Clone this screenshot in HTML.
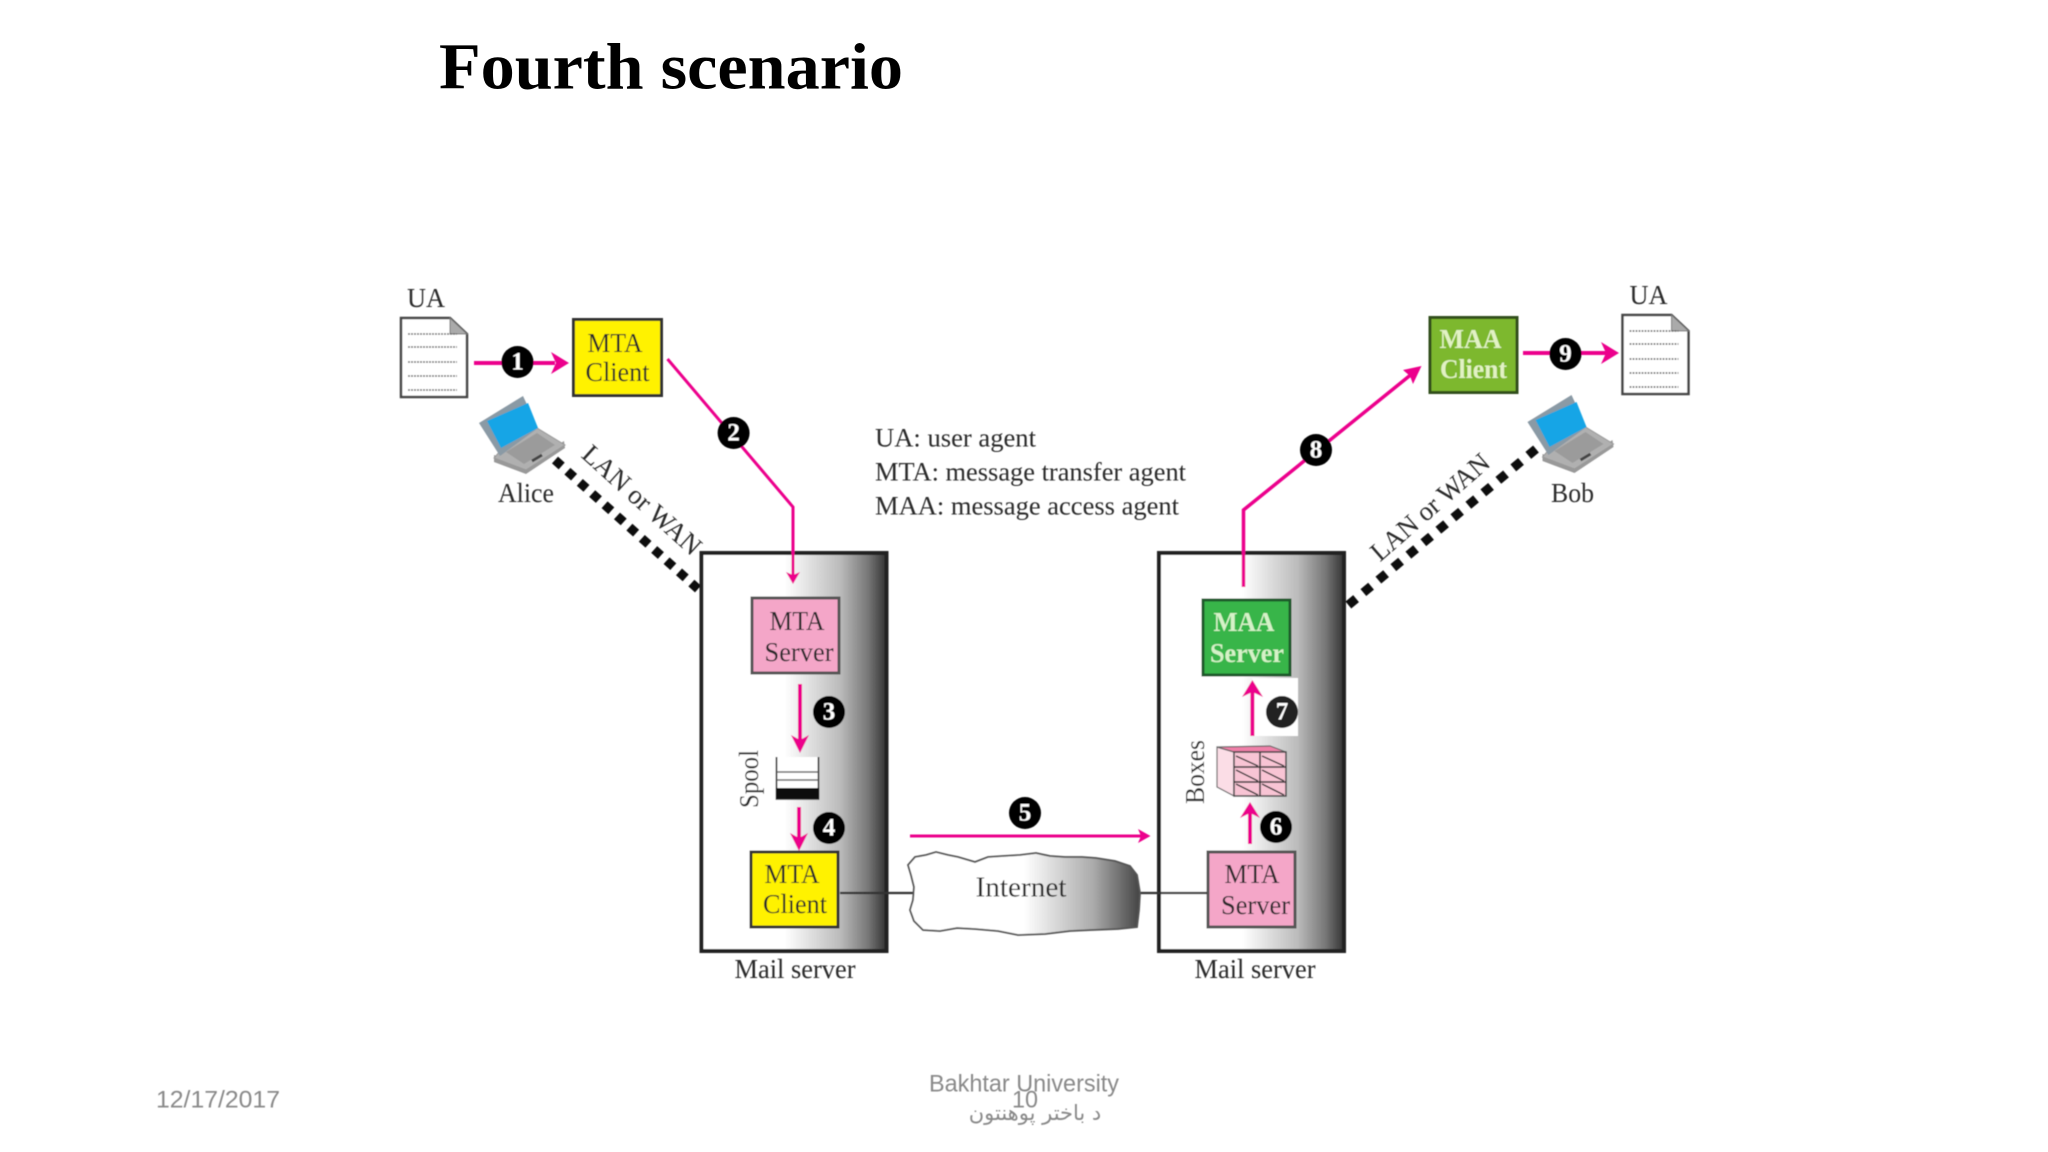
<!DOCTYPE html>
<html><head><meta charset="utf-8"><title>Fourth scenario</title>
<style>html,body{margin:0;padding:0;background:#fff}svg{display:block}
text{font-family:"Liberation Serif",serif;fill:#2a2a2a;text-anchor:middle;dominant-baseline:central}
.b{font-weight:bold}
.n{font-weight:bold;fill:#fff;font-size:25px}
.f{font-family:"Liberation Sans","DejaVu Sans",sans-serif;fill:#898989}
</style></head><body>
<svg xmlns="http://www.w3.org/2000/svg" width="2048" height="1152" viewBox="0 0 2048 1152">
<defs>
<linearGradient id="g" x1="0" x2="1" y1="0" y2="0"><stop offset="0" stop-color="#fff"/><stop offset=".45" stop-color="#fff"/><stop offset=".75" stop-color="#bbb"/><stop offset=".9" stop-color="#777"/><stop offset="1" stop-color="#333"/></linearGradient>
<linearGradient id="c" x1="0" x2="1" y1="0" y2="0"><stop offset="0" stop-color="#fff"/><stop offset=".5" stop-color="#fff"/><stop offset=".8" stop-color="#aaa"/><stop offset="1" stop-color="#444"/></linearGradient>
<filter id="s" x="-2%" y="-2%" width="104%" height="104%"><feGaussianBlur stdDeviation=".55"/></filter>
<g id="doc">
<path d="M401 318H450L467 334V397H401Z" fill="#fff" stroke="#444" stroke-width="2.5"/>
<path d="M450 318V334H467Z" fill="#aaa" stroke="#777" stroke-width="1"/>
<path d="M408 334H457M408 347H457M408 362H457M408 376H457M408 390H457" stroke="#666" stroke-width="1.6" stroke-dasharray="2 1" fill="none"/>
</g>
<g id="lap">
<path d="M494 462L526 474L565 448L564 441L526 466L494 455Z" fill="#999"/>
<path d="M500 451L537 428L565 445L526 470L494 458Z" fill="#b0b0b0" stroke="#999" stroke-width="1"/>
<path d="M506 452L537 433L555 445L524 464Z" fill="#9b9b9b"/>
<path d="M479 423L523 396L538 428L500 456Z" fill="#8a9aa5"/>
<path d="M487 421L528 403L538 428L501 448Z" fill="#12a5e6"/>
<path d="M532 461L542 455" stroke="#444" stroke-width="3"/>
</g>
</defs>
<rect width="2048" height="1152" fill="#fff"/>
<text class="b" x="671" y="67" font-size="66" textLength="464" lengthAdjust="spacingAndGlyphs" style="fill:#000">Fourth scenario</text>
<g filter="url(#s)">
<use href="#doc"/>
<use href="#doc" transform="translate(1221.5 -3)"/>
<use href="#lap"/>
<use href="#lap" transform="translate(1048.5 -1)"/>

<text x="426" y="298" font-size="27" textLength="38" lengthAdjust="spacingAndGlyphs">UA</text>
<text x="1648.500" y="295" font-size="27" textLength="38" lengthAdjust="spacingAndGlyphs">UA</text>
<text x="526" y="493" font-size="27" textLength="56" lengthAdjust="spacingAndGlyphs">Alice</text>
<text x="1572.500" y="493" font-size="27" textLength="43" lengthAdjust="spacingAndGlyphs">Bob</text>

<path d="M555 460L698 589" stroke="#111" stroke-width="9" stroke-dasharray="9 7.7" fill="none"/>
<path d="M1536 449L1346 607" stroke="#111" stroke-width="9" stroke-dasharray="10 9.5" fill="none"/>
<text x="642" y="500" font-size="27" textLength="150" lengthAdjust="spacingAndGlyphs" transform="rotate(42 642 500)">LAN or WAN</text>
<text x="1430" y="507" font-size="27" textLength="148" lengthAdjust="spacingAndGlyphs" transform="rotate(-41 1430 507)">LAN or WAN</text>

<text x="955.500" y="438" font-size="26" textLength="161" lengthAdjust="spacingAndGlyphs">UA: user agent</text>
<text x="1030.500" y="472" font-size="26" textLength="311" lengthAdjust="spacingAndGlyphs">MTA: message transfer agent</text>
<text x="1027" y="506" font-size="26" textLength="304" lengthAdjust="spacingAndGlyphs">MAA: message access agent</text>

<!-- servers -->
<rect x="701.500" y="553" width="185" height="398" fill="url(#g)" stroke="#222" stroke-width="4"/>
<rect x="1159" y="553" width="185" height="398" fill="url(#g)" stroke="#222" stroke-width="4"/>
<text x="795" y="969" font-size="27" textLength="121" lengthAdjust="spacingAndGlyphs">Mail server</text>
<text x="1255" y="969" font-size="27" textLength="121" lengthAdjust="spacingAndGlyphs">Mail server</text>

<!-- boxes -->
<g stroke="#333" stroke-width="3">
<rect x="573.500" y="319.500" width="88" height="76" fill="#fff200"/>
<rect x="752" y="598" width="87" height="75" fill="#f4a6c8" stroke="#555"/>
<rect x="751" y="852" width="87" height="75" fill="#fff200"/>
<rect x="1208" y="852" width="87" height="75" fill="#f4a6c8" stroke="#555"/>
<rect x="1203" y="600" width="87" height="75" fill="#39b54a" stroke="#1e5a2c"/>
<rect x="1430" y="317.500" width="87" height="75" fill="#7db82f" stroke="#33501a"/>
</g>
<text x="615" y="343" font-size="27" textLength="55" lengthAdjust="spacingAndGlyphs">MTA</text>
<text x="617.500" y="372" font-size="27" textLength="64" lengthAdjust="spacingAndGlyphs">Client</text>
<text x="797" y="621" font-size="27" textLength="55" lengthAdjust="spacingAndGlyphs">MTA</text>
<text x="799" y="652" font-size="27" textLength="69" lengthAdjust="spacingAndGlyphs">Server</text>
<text x="792" y="874" font-size="27" textLength="55" lengthAdjust="spacingAndGlyphs">MTA</text>
<text x="795" y="904" font-size="27" textLength="64" lengthAdjust="spacingAndGlyphs">Client</text>
<text x="1252" y="874" font-size="27" textLength="55" lengthAdjust="spacingAndGlyphs">MTA</text>
<text x="1255.500" y="905" font-size="27" textLength="69" lengthAdjust="spacingAndGlyphs">Server</text>
<text class="b" x="1244" y="622" font-size="27" textLength="61" lengthAdjust="spacingAndGlyphs" style="fill:#d5f2c8">MAA</text>
<text class="b" x="1247" y="653" font-size="27" textLength="74" lengthAdjust="spacingAndGlyphs" style="fill:#d5f2c8">Server</text>
<text class="b" x="1470.500" y="339" font-size="27" textLength="62" lengthAdjust="spacingAndGlyphs" style="fill:#e2f2c4">MAA</text>
<text class="b" x="1473.500" y="369" font-size="27" textLength="67" lengthAdjust="spacingAndGlyphs" style="fill:#e2f2c4">Client</text>

<!-- connection lines + cloud -->
<path d="M840 893H916M1138 893H1207" stroke="#333" stroke-width="2.2" fill="none"/>
<path d="M908 865L915 857L926 855L936 852L948 855L958 857L975 862L988 857L1003 856L1020 855L1036 853L1050 856L1065 857L1082 857L1096 858L1115 861L1130 866L1137 875L1140 893L1139 910L1137 927L1118 929L1092 930L1070 931L1045 934L1018 935L998 931L975 929L957 928L940 931L923 930L914 921L910 910L913 900L914 887L911 875Z" fill="url(#c)" stroke="#555" stroke-width="1.8"/>
<text x="1021" y="888" font-size="28" textLength="91" lengthAdjust="spacingAndGlyphs">Internet</text>

<!-- spool -->
<path d="M776.500 757V799H818.500V757" fill="#fff" stroke="#444" stroke-width="1.8"/>
<path d="M777 772H818M777 780H818" stroke="#666" stroke-width="1.5"/>
<rect x="776" y="788" width="43" height="11" fill="#111"/>
<text x="749" y="779" font-size="27" textLength="58" lengthAdjust="spacingAndGlyphs" transform="rotate(-90 749 779)">Spool</text>

<!-- mailboxes -->
<path d="M1217 747L1234 752V796L1217 787Z" fill="#fbdde6" stroke="#666" stroke-width="1.2"/>
<path d="M1217 747L1270 746L1286 752H1234Z" fill="#ef7fa8" stroke="#666" stroke-width="1.2"/>
<rect x="1234" y="752" width="52" height="44" fill="#f8c4d4" stroke="#444" stroke-width="1.5"/>
<path d="M1260 752V796M1234 767H1286M1234 782H1286M1236 756L1258 766M1262 756L1284 766M1236 770L1258 781M1262 770L1284 781M1236 784L1258 795M1262 784L1284 795" stroke="#333" stroke-width="1.5" fill="none"/>
<text x="1195" y="772" font-size="27" textLength="64" lengthAdjust="spacingAndGlyphs" transform="rotate(-90 1195 772)">Boxes</text>
<rect x="1252" y="678" width="46" height="58" fill="#fff"/>

<!-- arrows -->
<g fill="none" stroke="#ec008c">
<path d="M474 363H555" stroke-width="4"/>
<path d="M667.500 359L793 507V575" stroke-width="3"/>
<path d="M800 684V742" stroke-width="4"/>
<path d="M799 807V840" stroke-width="4"/>
<path d="M910 836H1141" stroke-width="3"/>
<path d="M1250 844V812" stroke-width="4"/>
<path d="M1252.400 736V690" stroke-width="4"/>
<path d="M1243.500 587V510L1413 373" stroke-width="3.500"/>
<path d="M1523 353H1608" stroke-width="4"/>
</g>
<g fill="#ec008c">
<path d="M569 363L551 352L556 363L551 374Z"/>
<path d="M793 584L786 572L793 575L800 572Z"/>
<path d="M800 753L791 735L800 740L809 735Z"/>
<path d="M799 851L790 833L799 838L808 833Z"/>
<path d="M1150.500 836L1138 829L1141 836L1138 843Z"/>
<path d="M1250 802L1240 818L1250 813L1260 818Z"/>
<path d="M1252.400 680L1242 697L1252.400 692L1263 697Z"/>
<path d="M1421.500 366L1403 370L1410 376L1413 384Z"/>
<path d="M1619 353L1601 342L1606 353L1601 364Z"/>
</g>

<!-- numbered circles -->
<g fill="#000">
<circle cx="517.500" cy="362" r="16"/><circle cx="733.600" cy="433" r="16"/><circle cx="829" cy="712" r="16"/>
<circle cx="829" cy="828" r="16"/><circle cx="1025" cy="813" r="16"/><circle cx="1276" cy="827" r="16"/>
<circle cx="1282" cy="712" r="16" fill="#222"/><circle cx="1316" cy="450" r="16"/><circle cx="1565.500" cy="354" r="16"/>
</g>
<text class="n" x="517.500" y="362">1</text><text class="n" x="733.600" y="433">2</text><text class="n" x="829" y="712">3</text>
<text class="n" x="829" y="828">4</text><text class="n" x="1025" y="813">5</text><text class="n" x="1276" y="827">6</text>
<text class="n" x="1282" y="712">7</text><text class="n" x="1316" y="450">8</text><text class="n" x="1565.500" y="354">9</text>

<!-- footer -->
<text class="f" x="218" y="1100" font-size="24" textLength="124" lengthAdjust="spacingAndGlyphs">12/17/2017</text>
<text class="f" x="1024" y="1084" font-size="24" textLength="190" lengthAdjust="spacingAndGlyphs">Bakhtar University</text>
<text class="f" x="1025" y="1100" font-size="24" textLength="26" lengthAdjust="spacingAndGlyphs">10</text>
<text class="f" x="1035" y="1113" font-size="21" direction="rtl" style="font-family:'DejaVu Sans',sans-serif">د باختر پوهنتون</text>
</g>
</svg>
</body></html>
